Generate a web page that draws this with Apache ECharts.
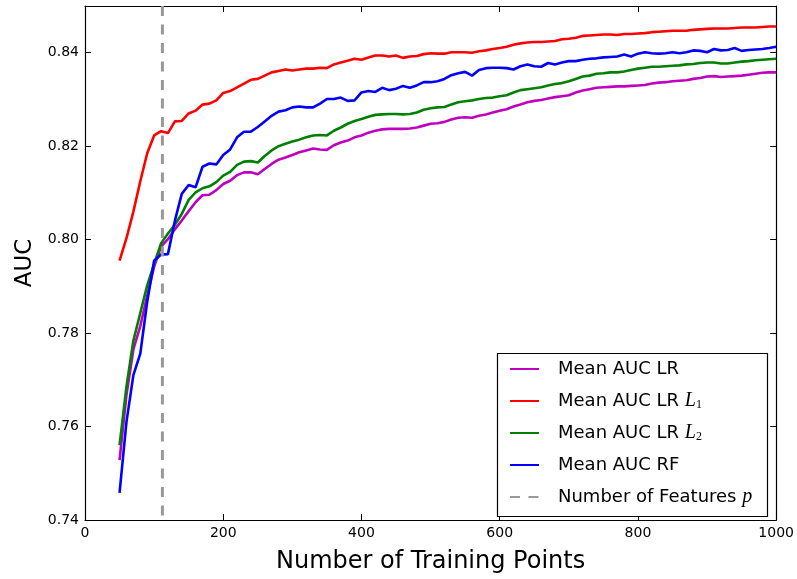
<!DOCTYPE html>
<html>
<head>
<meta charset="utf-8">
<script src="https://cdn.jsdelivr.net/npm/echarts@6/dist/echarts.min.js"></script>
<style>
  html, body { margin: 0; padding: 0; background: #fff; }
  #chart { width: 797px; height: 579px; }
</style>
</head>
<body>
<div id="chart"></div>
<script>
// Training-set sizes (x positions of every curve)
const trainingPoints = [
  50, 60, 70, 80, 90, 100, 110, 120, 130, 140, 150, 160, 170, 180, 190, 200,
  210, 220, 230, 240, 250, 260, 270, 280, 290, 300, 310, 320, 330, 340, 350, 360,
  370, 380, 390, 400, 410, 420, 430, 440, 450, 460, 470, 480, 490, 500, 510, 520,
  530, 540, 550, 560, 570, 580, 590, 600, 610, 620, 630, 640, 650, 660, 670, 680,
  690, 700, 710, 720, 730, 740, 750, 760, 770, 780, 790, 800, 810, 820, 830, 840,
  850, 860, 870, 880, 890, 900, 910, 920, 930, 940, 950, 960, 970, 980, 990, 1000
];

// Mean AUC, plain logistic regression
const aucLR = [
  0.7528, 0.7668, 0.7765, 0.7815, 0.7880, 0.7942, 0.7985, 0.8001, 0.8022, 0.8041, 0.8061, 0.8080, 0.8095, 0.8096, 0.8106, 0.8119,
  0.8126, 0.8138, 0.8144, 0.8144, 0.8140, 0.8151, 0.8162, 0.8171, 0.8176, 0.8181, 0.8187, 0.8191, 0.8195, 0.8193, 0.8192, 0.8202,
  0.8208, 0.8212, 0.8219, 0.8223, 0.8229, 0.8233, 0.8236, 0.8237, 0.8237, 0.8237, 0.8238, 0.8240, 0.8244, 0.8248, 0.8249, 0.8252,
  0.8257, 0.8261, 0.8262, 0.8261, 0.8265, 0.8268, 0.8272, 0.8276, 0.8279, 0.8285, 0.8289, 0.8294, 0.8297, 0.8299, 0.8302, 0.8305,
  0.8307, 0.8309, 0.8315, 0.8319, 0.8322, 0.8325, 0.8326, 0.8327, 0.8328, 0.8328, 0.8329, 0.8330, 0.8331, 0.8334, 0.8336, 0.8337,
  0.8339, 0.8340, 0.8341, 0.8344, 0.8346, 0.8349, 0.8350, 0.8348, 0.8349, 0.8350, 0.8351, 0.8353, 0.8355, 0.8357, 0.8358, 0.8358
];

// Mean AUC, L1-regularised logistic regression
const aucL1 = [
  0.7955, 0.8003, 0.8060, 0.8125, 0.8185, 0.8223, 0.8232, 0.8228, 0.8253, 0.8254, 0.8270, 0.8276, 0.8289, 0.8291, 0.8298, 0.8314,
  0.8318, 0.8326, 0.8334, 0.8342, 0.8344, 0.8351, 0.8358, 0.8361, 0.8364, 0.8362, 0.8364, 0.8366, 0.8366, 0.8368, 0.8367, 0.8375,
  0.8379, 0.8383, 0.8387, 0.8385, 0.8390, 0.8394, 0.8394, 0.8392, 0.8394, 0.8389, 0.8392, 0.8393, 0.8397, 0.8399, 0.8398, 0.8398,
  0.8401, 0.8401, 0.8401, 0.8400, 0.8403, 0.8405, 0.8408, 0.8410, 0.8413, 0.8417, 0.8420, 0.8422, 0.8423, 0.8423, 0.8424, 0.8425,
  0.8429, 0.8430, 0.8432, 0.8436, 0.8437, 0.8438, 0.8439, 0.8439, 0.8438, 0.8440, 0.8440, 0.8441, 0.8442, 0.8444, 0.8445, 0.8446,
  0.8447, 0.8447, 0.8447, 0.8449, 0.8450, 0.8451, 0.8452, 0.8452, 0.8452, 0.8453, 0.8454, 0.8454, 0.8454, 0.8455, 0.8456, 0.8456
];

// Mean AUC, L2-regularised logistic regression
const aucL2 = [
  0.7560, 0.7686, 0.7784, 0.7843, 0.7902, 0.7948, 0.7992, 0.8013, 0.8032, 0.8055, 0.8085, 0.8101, 0.8110, 0.8114, 0.8123, 0.8137,
  0.8145, 0.8160, 0.8167, 0.8168, 0.8165, 0.8179, 0.8191, 0.8200, 0.8205, 0.8210, 0.8214, 0.8219, 0.8223, 0.8224, 0.8223, 0.8233,
  0.8240, 0.8248, 0.8254, 0.8258, 0.8263, 0.8267, 0.8268, 0.8269, 0.8269, 0.8268, 0.8269, 0.8272, 0.8278, 0.8281, 0.8283, 0.8284,
  0.8289, 0.8294, 0.8296, 0.8298, 0.8301, 0.8303, 0.8304, 0.8307, 0.8309, 0.8315, 0.8320, 0.8322, 0.8324, 0.8326, 0.8330, 0.8333,
  0.8335, 0.8339, 0.8344, 0.8349, 0.8351, 0.8355, 0.8356, 0.8358, 0.8358, 0.8360, 0.8363, 0.8366, 0.8368, 0.8370, 0.8370, 0.8371,
  0.8372, 0.8373, 0.8375, 0.8376, 0.8378, 0.8379, 0.8379, 0.8377, 0.8377, 0.8379, 0.8381, 0.8382, 0.8384, 0.8385, 0.8386, 0.8387
];

// Mean AUC, random forest
const aucRF = [
  0.7458, 0.7610, 0.7710, 0.7756, 0.7867, 0.7955, 0.7968, 0.7969, 0.8040, 0.8098, 0.8117, 0.8112, 0.8156, 0.8163, 0.8161, 0.8181,
  0.8193, 0.8219, 0.8231, 0.8231, 0.8241, 0.8253, 0.8265, 0.8274, 0.8277, 0.8283, 0.8285, 0.8283, 0.8283, 0.8291, 0.8301, 0.8301,
  0.8304, 0.8297, 0.8298, 0.8315, 0.8318, 0.8316, 0.8325, 0.8320, 0.8323, 0.8329, 0.8325, 0.8330, 0.8337, 0.8337, 0.8339, 0.8344,
  0.8352, 0.8356, 0.8359, 0.8351, 0.8363, 0.8367, 0.8368, 0.8368, 0.8367, 0.8364, 0.8371, 0.8375, 0.8371, 0.8370, 0.8378, 0.8375,
  0.8379, 0.8382, 0.8382, 0.8385, 0.8387, 0.8388, 0.8390, 0.8391, 0.8392, 0.8396, 0.8392, 0.8398, 0.8401, 0.8399, 0.8398, 0.8399,
  0.8401, 0.8399, 0.8401, 0.8405, 0.8404, 0.8401, 0.8408, 0.8405, 0.8406, 0.8410, 0.8404, 0.8406, 0.8407, 0.8408, 0.8410, 0.8413
];

// Number of features p (vertical reference line)
const numFeatures = 112;

// Axis ranges and tick spacing
const xRange = [0, 1000];
const xStep = 200;
const yRange = [0.74, 0.85];
const yStep = 0.02;

const seriesNames = [
  'Mean AUC LR',
  'Mean AUC LR L1',
  'Mean AUC LR L2',
  'Mean AUC RF',
  'Number of Features p'
];

const legendLabels = {
  'Mean AUC LR': '{pad|}Mean AUC LR',
  'Mean AUC LR L1': '{pad|}Mean AUC LR {it|L}{sub|1}',
  'Mean AUC LR L2': '{pad|}Mean AUC LR {it|L}{sub|2}',
  'Mean AUC RF': '{pad|}Mean AUC RF',
  'Number of Features p': '{pad|}Number of Features {it|p}'
};

const pairs = (ys) => trainingPoints.map((x, i) => [x, ys[i]]);

const FONT = '"DejaVu Sans", sans-serif';
const MATH = '"Liberation Serif", "DejaVu Serif", serif';

const chart = echarts.init(document.getElementById('chart'), null, { renderer: 'canvas' });

function lineSeries(name, data, color) {
  return {
    name: name,
    type: 'line',
    data: data,
    showSymbol: false,
    symbol: 'none',
    lineStyle: { color: color, width: 2.6 },
    itemStyle: { color: color },
    z: 3
  };
}

const valueAxisX = (extra) => Object.assign({
  type: 'value',
  min: xRange[0],
  max: xRange[1],
  interval: xStep,
  axisLine: { show: true, onZero: false, lineStyle: { color: '#000', width: 1.2 } },
  axisTick: { show: true, inside: true, length: 6, lineStyle: { color: '#000', width: 1 } },
  splitLine: { show: false }
}, extra);

const valueAxisY = (extra) => Object.assign({
  type: 'value',
  min: yRange[0],
  max: yRange[1],
  interval: yStep,
  axisLine: { show: true, onZero: false, lineStyle: { color: '#000', width: 1.2 } },
  axisTick: { show: true, inside: true, length: 6, lineStyle: { color: '#000', width: 1 } },
  splitLine: { show: false }
}, extra);

chart.setOption({
  animation: false,
  backgroundColor: '#fff',
  grid: { left: 85, right: 20, top: 6, bottom: 53.5, containLabel: false },
  xAxis: [
    valueAxisX({
      position: 'bottom',
      name: 'Number of Training Points',
      nameLocation: 'middle',
      nameGap: 30,
      nameTextStyle: { fontFamily: FONT, fontSize: 24, color: '#000' },
      axisLabel: {
        show: true, margin: 6, fontFamily: FONT, fontSize: 14, color: '#000',
        formatter: (v) => String(v)
      }
    }),
    valueAxisX({ position: 'top', axisLabel: { show: false } })
  ],
  yAxis: [
    valueAxisY({
      position: 'left',
      name: 'AUC',
      nameLocation: 'middle',
      nameGap: 48,
      nameRotate: 90,
      nameTextStyle: { fontFamily: FONT, fontSize: 23, color: '#000' },
      axisLabel: {
        show: true, margin: 6, fontFamily: FONT, fontSize: 14, color: '#000',
        showMaxLabel: false,
        formatter: (v) => v.toFixed(2)
      }
    }),
    valueAxisY({ position: 'right', axisLabel: { show: false } })
  ],
  graphic: [{
    type: 'rect',
    shape: { x: 497.5, y: 353.5, width: 270, height: 163 },
    style: { fill: '#fff', stroke: '#000', lineWidth: 1.2 },
    z: 10
  }],
  legend: {
    orient: 'vertical',
    left: 509,
    top: 359,
    padding: 0,
    itemWidth: 29,
    itemHeight: 14,
    itemGap: 12,
    z: 20,
    data: seriesNames,
    formatter: (name) => legendLabels[name],
    itemStyle: { color: 'rgba(0,0,0,0)', borderWidth: 0, opacity: 0 },
    textStyle: {
      fontFamily: FONT,
      fontSize: 18,
      lineHeight: 20,
      color: '#000',
      rich: {
        pad: { width: 14, lineHeight: 20 },
        it: { fontFamily: MATH, fontStyle: 'italic', fontSize: 20, lineHeight: 20 },
        sub: { fontFamily: MATH, fontSize: 12, lineHeight: 8, verticalAlign: 'bottom' }
      }
    }
  },
  series: [
    lineSeries(seriesNames[0], pairs(aucLR), '#bf00bf'),
    lineSeries(seriesNames[1], pairs(aucL1), '#ff0000'),
    lineSeries(seriesNames[2], pairs(aucL2), '#008000'),
    lineSeries(seriesNames[3], pairs(aucRF), '#0000ff'),
    {
      // drawn top-down so the dash pattern starts at the upper frame
      name: seriesNames[4],
      type: 'line',
      data: [[numFeatures, yRange[1]], [numFeatures, yRange[0]]],
      showSymbol: false,
      symbol: 'none',
      lineStyle: { color: '#999999', width: 3, type: [10, 8.5] },
      itemStyle: { color: '#999999' },
      z: 4
    }
  ]
});
</script>
</body>
</html>
